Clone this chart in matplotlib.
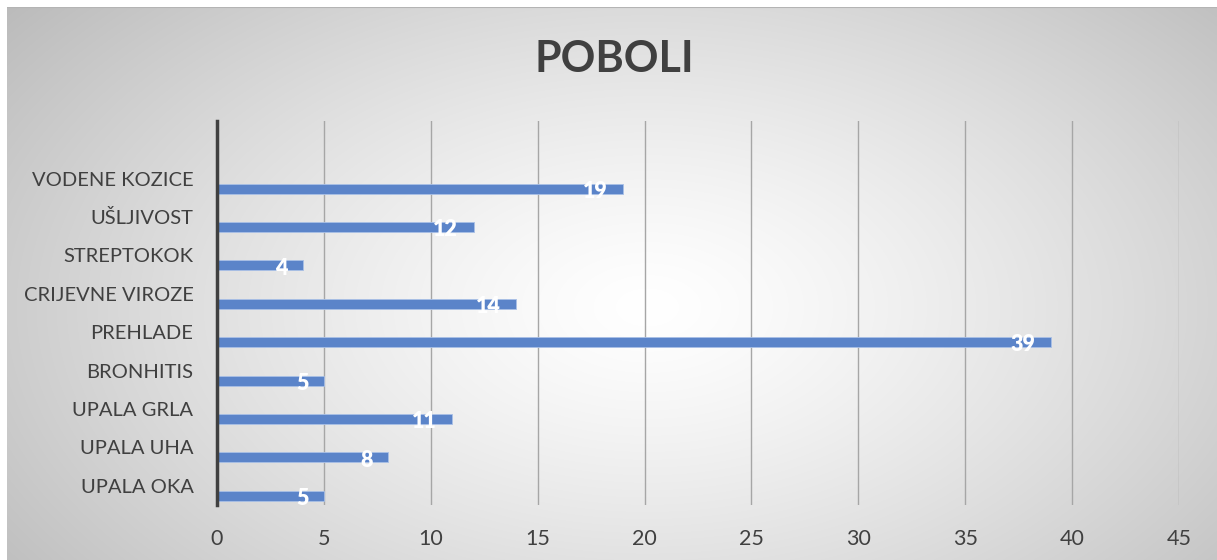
import numpy as np
import matplotlib
matplotlib.use('Agg')
import matplotlib.pyplot as plt

categories = ['UPALA OKA', 'UPALA UHA', 'UPALA GRLA', 'BRONHITIS', 'PREHLADE',
              'CRIJEVNE VIROZE', 'STREPTOKOK', 'UŠLJIVOST', 'VODENE KOZICE']
values = [5, 8, 11, 5, 39, 14, 4, 12, 19]
x_ticks = [0, 5, 10, 15, 20, 25, 30, 35, 40, 45]
title = 'POBOLI'

plt.rcParams['font.family'] = ['Lato', 'DejaVu Sans']
W, H = 1217, 560
fig = plt.figure(figsize=(W / 100, H / 100), dpi=100)
fig.patch.set_facecolor('white')

# radial grey gradient background (Excel style)
bg = fig.add_axes([7 / W, 0, 1 - 7 / W, 1 - 7 / H])
yy, xx = np.mgrid[0:553, 0:1210]
cx, cy = 640, 300
r = np.sqrt(((xx - cx) / 700.0) ** 2 + ((yy - cy) / 420.0) ** 2)
shade = 1.0 - 0.22 * np.clip(r, 0, 1.2) ** 1.3
img = np.dstack([shade, shade, shade])
bg.imshow(img, aspect='auto', extent=[0, 1, 0, 1], origin='upper')
bg.axhline(1, color='#b4b4b4', lw=1.5)
bg.set_axis_off()

ax = fig.add_axes([217 / W, 1 - 505 / H, (1179 - 217) / W, (505 - 121) / H])
ax.set_facecolor('none')
pos = np.arange(len(categories))
bars = ax.barh(pos - 0.26, values, height=0.26, color='#5b84c9',
               edgecolor='#a9c0e6', linewidth=0.6, zorder=3)
for b, v in zip(bars, values):
    ax.annotate(str(v), (v, b.get_y() + b.get_height() / 2),
                xytext=(-11, -2), textcoords='offset points',
                ha='right', va='center', color='white', fontweight='heavy',
                fontsize=15.5, zorder=4)

ax.set_xlim(0, 45)
ax.set_ylim(-0.5, 9.5)
ax.set_xticks(x_ticks)
ax.set_yticks(pos)
ax.set_yticklabels(categories)
ax.tick_params(axis='both', length=0, labelsize=14.5, labelcolor='#404040')
ax.tick_params(axis='x', labelsize=15.5)
ax.tick_params(axis='y', pad=17)
ax.tick_params(axis='x', pad=17)
ax.grid(axis='x', color='#a6a6a6', lw=1, zorder=0)
for s in ['top', 'right', 'bottom']:
    ax.spines[s].set_visible(False)
ax.spines['left'].set_color('#404040')
ax.spines['left'].set_linewidth(2.5)
ax.spines['left'].set_zorder(5)

fig.text(614 / W, 1 - 59 / H, title, ha='center', va='center',
         fontsize=31, fontweight='bold', color='#404040')

fig.savefig('out.png', dpi=100)
